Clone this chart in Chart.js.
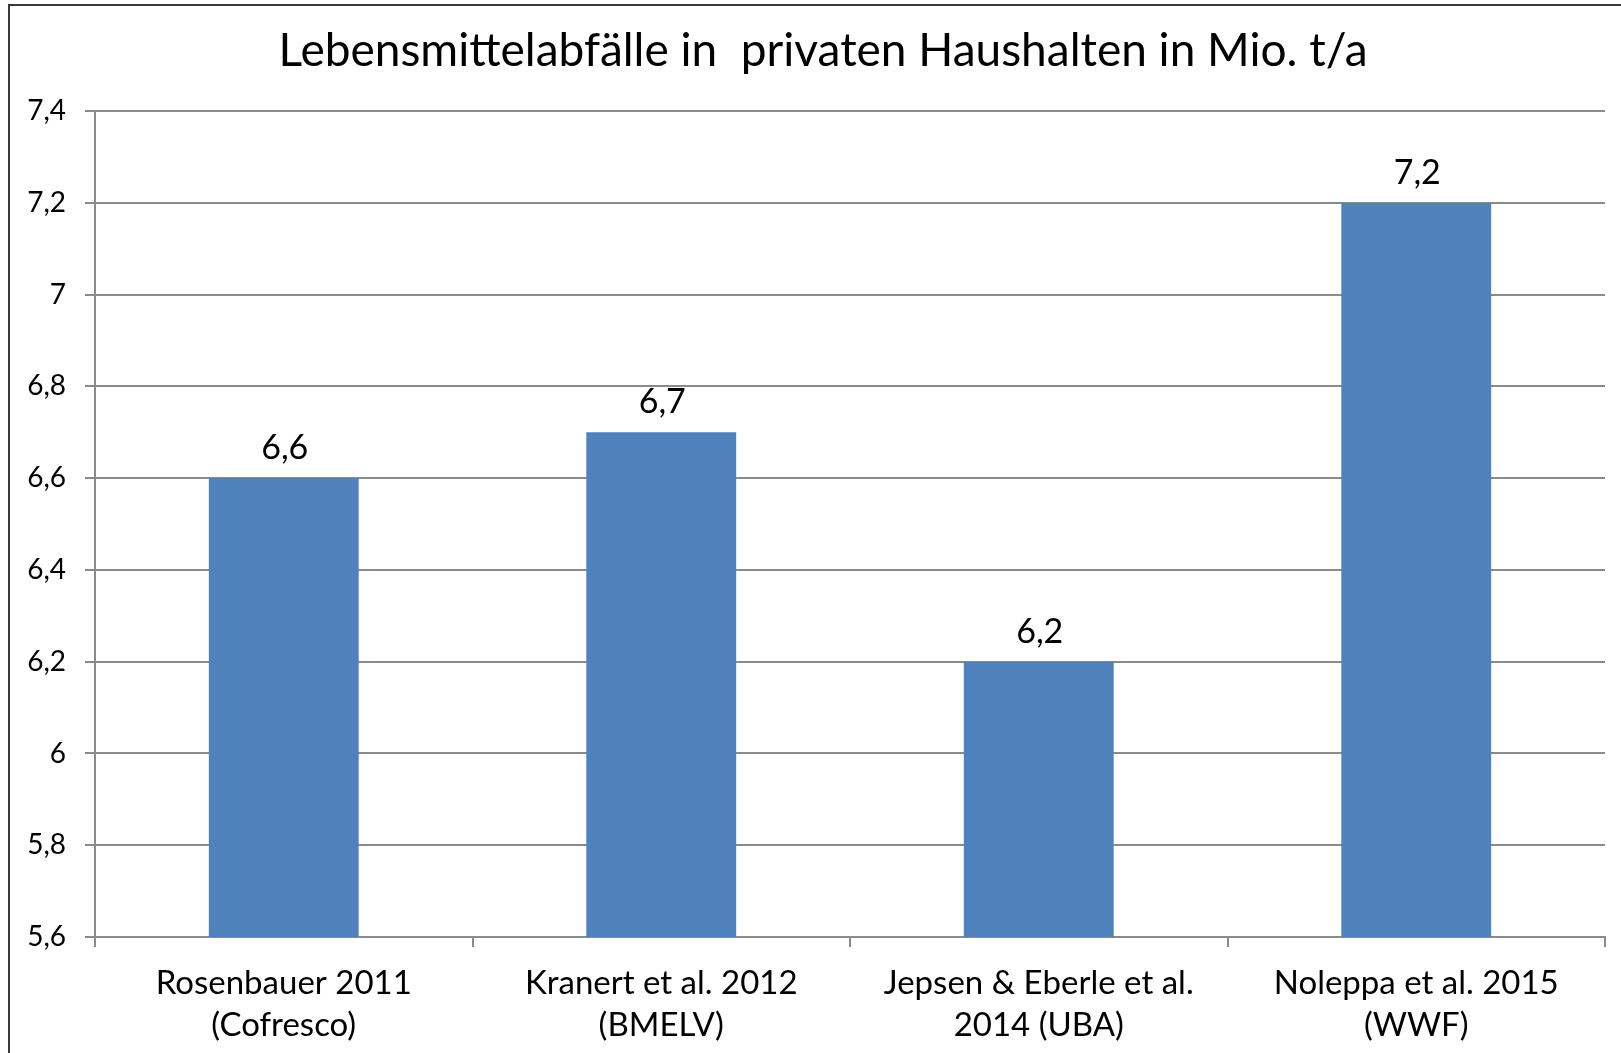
<!DOCTYPE html>
<html>
<head>
<meta charset="utf-8">
<script src="https://cdn.jsdelivr.net/npm/chart.js@4"></script>
<style>
  html, body { margin: 0; padding: 0; background: #fff; overflow: hidden; }
  #frame { position: absolute; left: 8px; top: 4px; width: 1700px; height: 1200px; border: 2px solid #3a3a3a; box-sizing: border-box; }
  #wrap { position: absolute; left: 0; top: 0; width: 1621px; height: 1053px; }
</style>
</head>
<body>
<div id="frame"></div>
<div id="wrap"><canvas id="c" width="1621" height="1053"></canvas></div>
<script>
const titleText = 'Lebensmittelabfälle in  privaten Haushalten in Mio. t/a';
const categories = [
  ['Rosenbauer 2011', '(Cofresco)'],
  ['Kranert et al. 2012', '(BMELV)'],
  ['Jepsen & Eberle et al.', '2014 (UBA)'],
  ['Noleppa et al. 2015', '(WWF)']
];
const values = [6.6, 6.7, 6.2, 7.2];
const yMin = 5.6;
const yMax = 7.4;
const yStep = 0.2;

const fmt = v => String(Number(v.toFixed(1))).replace('.', ',');

const valueLabels = {
  id: 'valueLabels',
  afterDatasetsDraw(chart) {
    const ctx = chart.ctx;
    ctx.save();
    ctx.font = '34px Lato';
    ctx.fillStyle = '#000';
    ctx.textAlign = 'center';
    ctx.textBaseline = 'middle';
    chart.getDatasetMeta(0).data.forEach((bar, i) => {
      ctx.fillText(fmt(chart.data.datasets[0].data[i]), bar.x + 1, bar.y - 30);
    });
    ctx.restore();
  }
};

// Shift the title box so it is centred where the original frame's title sits
const titleShift = {
  id: 'titleShift',
  afterLayout(chart) {
    if (chart.titleBlock) chart.titleBlock.left = 41;
  }
};

new Chart(document.getElementById('c'), {
  type: 'bar',
  data: {
    labels: categories,
    datasets: [{
      data: values,
      backgroundColor: '#4F81BD',
      borderWidth: 0,
      barPercentage: 0.397,
      categoryPercentage: 1
    }]
  },
  options: {
    responsive: false,
    animation: false,
    layout: { padding: { left: 0, right: 16, top: 0, bottom: 0 } },
    plugins: {
      legend: { display: false },
      tooltip: { enabled: false },
      title: {
        display: true,
        text: titleText,
        color: '#000',
        font: { family: 'Lato', size: 46, weight: 'normal', lineHeight: 1.2 },
        padding: { top: 24, bottom: 32 }
      }
    },
    scales: {
      y: {
        min: yMin,
        max: yMax,
        afterFit(scale) { scale.width = 95; },
        ticks: {
          stepSize: yStep,
          color: '#000',
          padding: 19,
          font: { family: 'Lato', size: 28 },
          callback: v => fmt(v)
        },
        grid: { color: '#8a8a8a', lineWidth: 2, tickLength: 10, drawTicks: true },
        border: { color: '#8a8a8a', width: 2 }
      },
      x: {
        afterFit(scale) { scale.height = 116; },
        ticks: {
          color: '#000',
          padding: 16,
          maxRotation: 0,
          autoSkip: false,
          font: { family: 'Lato', size: 33, lineHeight: 1.25 }
        },
        grid: { display: true, drawOnChartArea: false, drawTicks: true, tickLength: 10, color: '#8a8a8a', lineWidth: 2, offset: true },
        border: { color: '#8a8a8a', width: 2 }
      }
    }
  },
  plugins: [valueLabels, titleShift]
});
</script>
</body>
</html>
